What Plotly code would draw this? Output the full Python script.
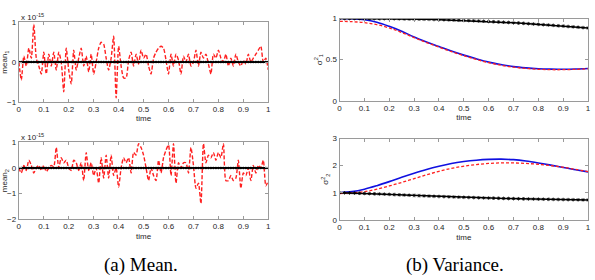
import plotly.graph_objects as go

# ---------------- data ----------------
t_mean = [round(i * 0.01, 2) for i in range(101)]
mean1_est = [0.0, -0.45, 0.15, -0.1, 0.35, 0.1, 0.95, 0.1, -0.1, -0.3,
             0.25, -0.3, 0.2, -0.1, 0.25, -0.2, 0.25, 0.0, -0.75, 0.35,
             -0.2, -0.55, 0.3, -0.2, 0.1, 0.35, -0.1, 0.15, -0.25, 0.2,
             -0.3, 0.0, 0.35, 0.5, 0.45, 0.1, -0.2, 0.1, 0.65, -0.9,
             0.4, -0.1, -0.4, -0.4, 0.05, 0.25, -0.1, 0.2, -0.05, 0.3,
             0.1, 0.2, -0.1, -0.3, 0.1, 0.25, 0.35, 0.4, 0.35, 0.05,
             -0.3, 0.2, -0.1, 0.2, 0.05, -0.3, 0.15, 0.0, 0.2, -0.1,
             0.0, 0.3, -0.1, 0.25, 0.1, 0.2, -0.05, -0.3, 0.2, 0.1,
             0.3, 0.1, 0.0, 0.2, -0.1, 0.1, -0.1, 0.2, 0.0, -0.1,
             0.05, -0.05, 0.2, 0.0, 0.1, 0.2, 0.3, 0.4, 0.0, 0.1, -0.2]
mean2_est = [0.0, -0.2, 0.1, -0.1, 0.3, 0.1, -0.2, 0.0, 0.1, -0.1,
             0.1, -0.15, 0.0, 0.1, 0.05, 0.8, 0.0, 0.4, 0.2, 0.3,
             0.0, -0.1, 0.3, 0.2, -0.1, 0.2, -0.5, 0.6, -0.1, 0.2,
             -0.3, 0.0, -0.6, 0.4, -0.4, 0.5, -0.4, 0.5, -0.3, 0.0,
             -0.75, 0.0, 0.4, 0.2, 0.4, -0.2, 0.6, 0.5, 0.95, 0.8,
             0.5, 0.0, -0.5, 0.0, -0.3, -0.5, 0.3, -0.2, 0.4, 0.7,
             0.9, -0.3, 0.95, -0.6, 0.2, 0.0, 0.2, 0.2, -0.2, 0.8,
             0.1, -0.8, -0.6, -1.4, 0.95, 0.2, 0.5, 0.4, 0.6, 0.3,
             0.6, 0.4, 0.95, -0.5, -0.5, -0.3, -0.5, -0.4, 0.3, -0.8,
             -0.2, -0.3, 0.0, -0.5, 0.1, -0.2, 0.1, 0.0, 0.3, -0.7, -0.5]
mean_exact = [0.0] * 101

t_black = [round(i * 0.02, 2) for i in range(51)]
var1_black = [1.000, 1.000, 1.000, 1.000, 1.000, 0.999, 0.999, 0.999, 0.998, 0.998,
              0.997, 0.997, 0.996, 0.995, 0.994, 0.993, 0.992, 0.991, 0.990, 0.988,
              0.987, 0.985, 0.983, 0.981, 0.979, 0.977, 0.975, 0.972, 0.970, 0.967,
              0.964, 0.961, 0.958, 0.955, 0.952, 0.948, 0.945, 0.941, 0.937, 0.933,
              0.929, 0.925, 0.921, 0.917, 0.912, 0.908, 0.903, 0.899, 0.894, 0.889, 0.885]
var2_black = [1.000, 0.996, 0.991, 0.986, 0.980, 0.974, 0.967, 0.961, 0.954, 0.947,
              0.940, 0.932, 0.924, 0.916, 0.908, 0.900, 0.892, 0.884, 0.876, 0.868,
              0.861, 0.855, 0.849, 0.843, 0.837, 0.831, 0.825, 0.820, 0.814, 0.809,
              0.804, 0.799, 0.795, 0.790, 0.786, 0.782, 0.778, 0.774, 0.770, 0.767,
              0.763, 0.760, 0.757, 0.754, 0.751, 0.748, 0.745, 0.742, 0.739, 0.736, 0.733]

t_var = [round(i * 0.05, 2) for i in range(21)]
var1_blue = [1.000, 0.997, 0.985, 0.955, 0.905, 0.845, 0.775, 0.715, 0.660, 0.605,
             0.555, 0.510, 0.470, 0.440, 0.415, 0.400, 0.390, 0.385, 0.383, 0.386, 0.393]
var1_red = [0.965, 0.962, 0.950, 0.925, 0.885, 0.830, 0.768, 0.708, 0.652, 0.598,
            0.548, 0.503, 0.463, 0.432, 0.408, 0.393, 0.383, 0.378, 0.378, 0.382, 0.390]
var2_blue = [1.000, 1.040, 1.130, 1.260, 1.410, 1.570, 1.720, 1.860, 1.980, 2.080,
             2.150, 2.200, 2.230, 2.240, 2.220, 2.170, 2.100, 2.020, 1.930, 1.850, 1.770]
var2_red = [0.970, 0.990, 1.040, 1.130, 1.250, 1.380, 1.520, 1.660, 1.790, 1.900,
            1.980, 2.040, 2.080, 2.100, 2.100, 2.080, 2.050, 2.000, 1.940, 1.860, 1.780]

x_ticks = [0, 0.1, 0.2, 0.3, 0.4, 0.5, 0.6, 0.7, 0.8, 0.9, 1]
x_ticklabels = ["0", "0.1", "0.2", "0.3", "0.4", "0.5", "0.6", "0.7", "0.8", "0.9", "1"]

# ---------------- figure ----------------
W, H = 595, 280
def px(x0, x1):
    return [x0 / W, x1 / W]
def py(y0, y1):
    return [1 - y1 / H, 1 - y0 / H]

fig = go.Figure()
RED = "#ff2020"
BLUE = "#1010e0"

# top-left
fig.add_trace(go.Scatter(x=t_mean, y=mean1_est, mode="lines", xaxis="x", yaxis="y",
                         line=dict(color=RED, width=1.4, dash="4px,2px", shape="spline", smoothing=0.6)))
fig.add_trace(go.Scatter(x=t_mean, y=mean_exact, mode="lines+markers", xaxis="x", yaxis="y",
                         line=dict(color="black", width=1.8), marker=dict(color="black", size=2.5)))
# bottom-left
fig.add_trace(go.Scatter(x=t_mean, y=mean2_est, mode="lines", xaxis="x2", yaxis="y2",
                         line=dict(color=RED, width=1.4, dash="4px,2px", shape="spline", smoothing=0.6)))
fig.add_trace(go.Scatter(x=t_mean, y=mean_exact, mode="lines+markers", xaxis="x2", yaxis="y2",
                         line=dict(color="black", width=1.8), marker=dict(color="black", size=2.5)))
# top-right
fig.add_trace(go.Scatter(x=t_var, y=var1_blue, mode="lines", xaxis="x3", yaxis="y3",
                         line=dict(color=BLUE, width=1.6, shape="spline")))
fig.add_trace(go.Scatter(x=t_var, y=var1_red, mode="lines", xaxis="x3", yaxis="y3",
                         line=dict(color=RED, width=1.3, dash="3px,2px", shape="spline")))
fig.add_trace(go.Scatter(x=t_black, y=var1_black, mode="lines+markers", xaxis="x3", yaxis="y3",
                         line=dict(color="black", width=1.5),
                         marker=dict(color="black", size=3, symbol="asterisk-open", line=dict(width=0.8, color="black"))))
# bottom-right
fig.add_trace(go.Scatter(x=t_var, y=var2_blue, mode="lines", xaxis="x4", yaxis="y4",
                         line=dict(color=BLUE, width=1.6, shape="spline")))
fig.add_trace(go.Scatter(x=t_var, y=var2_red, mode="lines", xaxis="x4", yaxis="y4",
                         line=dict(color=RED, width=1.3, dash="3px,2px", shape="spline")))
fig.add_trace(go.Scatter(x=t_black, y=var2_black, mode="lines+markers", xaxis="x4", yaxis="y4",
                         line=dict(color="black", width=1.5),
                         marker=dict(color="black", size=3, symbol="asterisk-open", line=dict(width=0.8, color="black"))))

TICKFONT = dict(family="Liberation Sans", size=8, color="#262626")
AXCOL = "#9a9a9a"

def xax(domain, anchor):
    return dict(domain=domain, anchor=anchor, range=[0, 1], tickvals=x_ticks, ticktext=x_ticklabels,
                showline=True, linecolor=AXCOL, linewidth=1, mirror="ticks", ticks="inside",
                ticklen=3, tickcolor=AXCOL, showgrid=False, zeroline=False, tickfont=TICKFONT,
                title=dict(text="time", font=TICKFONT, standoff=2))

def yax(domain, anchor, rng, tv, title):
    return dict(domain=domain, anchor=anchor, range=rng, tickvals=tv,
                showline=True, linecolor=AXCOL, linewidth=1, mirror="ticks", ticks="inside",
                ticklen=3, tickcolor=AXCOL, showgrid=False, zeroline=False, tickfont=TICKFONT,
                title=dict(text=title, font=TICKFONT, standoff=2))

fig.update_layout(
    width=W, height=H, margin=dict(l=0, r=0, t=0, b=0),
    paper_bgcolor="white", plot_bgcolor="white", showlegend=False,
    xaxis=xax(px(16, 268), "y"),
    yaxis=yax(py(19, 101), "x", [-1, 1], [-1, 0, 1], "mean<sub>1</sub>"),
    xaxis2=xax(px(16, 268), "y2"),
    yaxis2=yax(py(143, 222), "x2", [-2, 1], [-2, -1, 0, 1], "mean<sub>2</sub>"),
    xaxis3=xax(px(340, 591), "y3"),
    yaxis3=yax(py(15, 100), "x3", [0, 1], [0, 0.5, 1], "σ<sup>2</sup><sub>1</sub>"),
    xaxis4=xax(px(340, 591), "y4"),
    yaxis4=yax(py(139, 223), "x4", [0, 3], [0, 1, 2, 3], "σ<sup>2</sup><sub>2</sub>"),
)

ann_font = dict(family="Liberation Sans", size=8, color="#262626")
fig.add_annotation(x=16 / W, y=1 - 13 / H, xref="paper", yref="paper", text="x 10<sup>-15</sup>",
                   showarrow=False, font=ann_font, xanchor="left", yanchor="middle")
fig.add_annotation(x=16 / W, y=1 - 137 / H, xref="paper", yref="paper", text="x 10<sup>-15</sup>",
                   showarrow=False, font=ann_font, xanchor="left", yanchor="middle")

cap_font = dict(family="Liberation Serif", size=19, color="black")
fig.add_annotation(x=139 / W, y=1 - 270 / H, xref="paper", yref="paper", text="(a) Mean.",
                   showarrow=False, font=cap_font, xanchor="center", yanchor="middle")
fig.add_annotation(x=457 / W, y=1 - 270 / H, xref="paper", yref="paper", text="(b) Variance.",
                   showarrow=False, font=cap_font, xanchor="center", yanchor="middle")

fig.write_html("out.html")
